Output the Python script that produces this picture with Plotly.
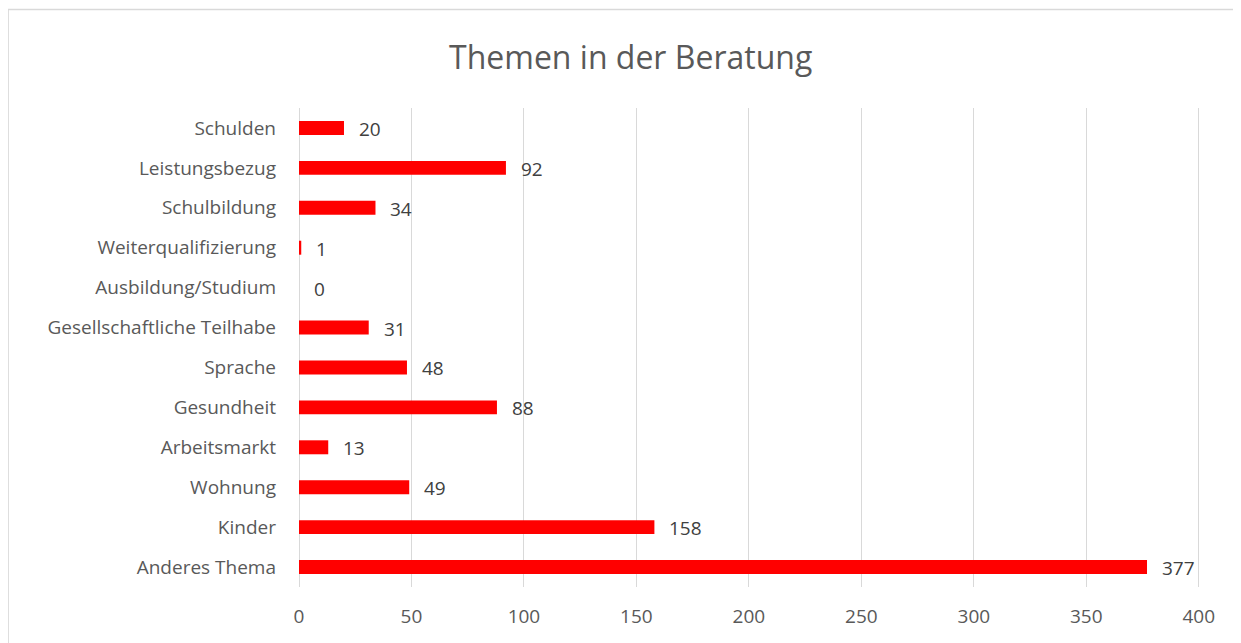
import plotly.graph_objects as go

themen = ['Anderes Thema', 'Kinder', 'Wohnung', 'Arbeitsmarkt', 'Gesundheit', 'Sprache',
          'Gesellschaftliche Teilhabe', 'Ausbildung/Studium', 'Weiterqualifizierung',
          'Schulbildung', 'Leistungsbezug', 'Schulden']
anzahl = [377, 158, 49, 13, 88, 48, 31, 0, 1, 34, 92, 20]

x_ticks = [0, 50, 100, 150, 200, 250, 300, 350, 400]

font_family = 'Open Sans, Noto Sans, sans-serif'
grau = '#595959'

fig = go.Figure()

fig.add_trace(go.Bar(
    x=anzahl,
    y=themen,
    orientation='h',
    width=0.35,
    marker=dict(color='#ff0000', line=dict(width=0)),
    hoverinfo='x+y',
))

# Werte rechts neben den Balken
for wert, thema in zip(anzahl, themen):
    fig.add_annotation(
        x=wert, y=thema, text=str(wert),
        xanchor='left', yanchor='middle', xshift=13, yshift=-1,
        showarrow=False,
        font=dict(family=font_family, size=19, color='#404040'),
    )

# Rahmen wie im Excel-Diagramm (Seite hat 8px Rand)
fig.add_shape(
    type='rect', xref='paper', yref='paper',
    x0=-0.3225, x1=1.2, y0=-0.3, y1=1.2054,
    line=dict(color='#d9d9d9', width=1.5), layer='below',
)

fig.update_layout(
    title=dict(text='Themen in der Beratung', x=0.505, xanchor='center', y=0.922, yanchor='middle',
               font=dict(family=font_family, size=32, color=grau)),
    width=1233, height=635,
    margin=dict(l=291, r=40, t=100, b=56),
    plot_bgcolor='white',
    paper_bgcolor='white',
    showlegend=False,
    xaxis=dict(
        range=[0, 401],
        tickvals=x_ticks,
        showgrid=True, gridcolor='#d9d9d9', gridwidth=1,
        zeroline=True, zerolinecolor='#d9d9d9', zerolinewidth=1,
        showline=False,
        ticks='', ticklabelstandoff=16,
        tickfont=dict(family=font_family, size=19, color=grau),
    ),
    yaxis=dict(
        showgrid=False, zeroline=False, showline=False,
        ticks='', ticklabelstandoff=22,
        tickfont=dict(family=font_family, size=19, color=grau),
    ),
)

fig.write_html('out.html')
